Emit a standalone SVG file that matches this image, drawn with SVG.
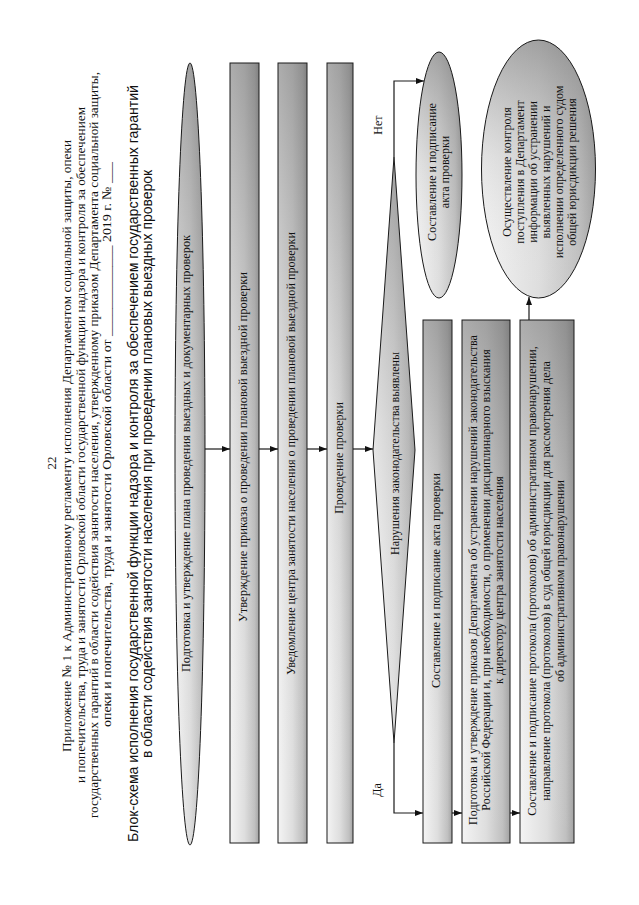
<svg xmlns="http://www.w3.org/2000/svg" width="639" height="905" viewBox="0 0 639 905">
<defs>
<linearGradient id="gh" x1="0" y1="0" x2="1" y2="0">
<stop offset="0" stop-color="#f4f4f4"/>
<stop offset="0.5" stop-color="#dedede"/>
<stop offset="0.85" stop-color="#c0c0c0"/>
<stop offset="1" stop-color="#a2a2a2"/>
</linearGradient>
<linearGradient id="gv" x1="0" y1="0" x2="0" y2="1">
<stop offset="0" stop-color="#555555" stop-opacity="0.45"/>
<stop offset="0.45" stop-color="#777777" stop-opacity="0.14"/>
<stop offset="1" stop-color="#ffffff" stop-opacity="0"/>
</linearGradient>
<marker id="ah" markerUnits="userSpaceOnUse" markerWidth="8" markerHeight="6" refX="8" refY="3" orient="auto">
<path d="M0,0 L8,3 L0,6 z" fill="#111"/>
</marker>
</defs>
<style>
.hd{font-family:"Liberation Serif","Times New Roman",serif;font-size:13px;fill:#111;text-anchor:middle}
.tt{font-family:"Liberation Sans",Arial,sans-serif;font-size:14px;fill:#111;text-anchor:middle}
.bx{font-family:"Liberation Serif","Times New Roman",serif;font-size:12px;fill:#111;text-anchor:middle}
.sh{fill:url(#gh)}
.ov{fill:url(#gv);stroke:#1a1a1a;stroke-width:1}
.cn{fill:none;stroke:#1a1a1a;stroke-width:1.2;marker-end:url(#ah)}
.lb{font-family:"Liberation Serif","Times New Roman",serif;font-size:12px;fill:#111;text-anchor:middle}
</style>
<rect width="639" height="905" fill="#ffffff"/>
<g id="header">
<text class="hd" transform="translate(56,463) rotate(-90)">22</text>
<text class="hd" transform="translate(71,446) rotate(-90)" textLength="612" lengthAdjust="spacingAndGlyphs">Приложение № 1 к Административному регламенту исполнения Департаментом социальной защиты, опеки</text>
<text class="hd" transform="translate(85,445) rotate(-90)" textLength="676" lengthAdjust="spacingAndGlyphs">и попечительства, труда и занятости Орловской области государственной функции надзора и контроля за обеспечением</text>
<text class="hd" transform="translate(98,445) rotate(-90)" textLength="746" lengthAdjust="spacingAndGlyphs">государственных гарантий в области содействия занятости населения, утвержденному приказом Департамента социальной защиты,</text>
<text class="hd" transform="translate(111,444.5) rotate(-90)" textLength="565" lengthAdjust="spacingAndGlyphs">опеки и попечительства, труда и занятости Орловской области от _____________ 2019 г. № ___</text>
<text class="tt" transform="translate(138,463.5) rotate(-90)" textLength="757" lengthAdjust="spacingAndGlyphs">Блок-схема исполнения государственной функции надзора и контроля за обеспечением государственных гарантий</text>
<text class="tt" transform="translate(152,464) rotate(-90)" textLength="588" lengthAdjust="spacingAndGlyphs">в области содействия занятости населения при проведении плановых выездных проверок</text>
</g>
<g id="n1">
<ellipse class="sh" cx="190" cy="454" rx="15" ry="391"/>
<ellipse class="ov" cx="190" cy="454" rx="15" ry="391"/>
<text class="bx" transform="translate(190,453.5) rotate(-90)" textLength="437" lengthAdjust="spacingAndGlyphs">Подготовка и утверждение плана проведения выездных и документарных проверок</text>
</g>
<g id="n2">
<rect class="sh" x="230" y="63" width="29" height="780"/>
<rect class="ov" x="230" y="63" width="29" height="780"/>
<text class="bx" transform="translate(247,447) rotate(-90)" textLength="350" lengthAdjust="spacingAndGlyphs">Утверждение приказа о проведении плановой выездной проверки</text>
</g>
<g id="n3">
<rect class="sh" x="278" y="63" width="29" height="780"/>
<rect class="ov" x="278" y="63" width="29" height="780"/>
<text class="bx" transform="translate(295,453.5) rotate(-90)" textLength="443" lengthAdjust="spacingAndGlyphs">Уведомление центра занятости населения о проведении плановой выездной проверки</text>
</g>
<g id="n4">
<rect class="sh" x="327" y="63" width="26" height="780"/>
<rect class="ov" x="327" y="63" width="26" height="780"/>
<text class="bx" transform="translate(343,458) rotate(-90)">Проведение проверки</text>
</g>
<g id="n5">
<polygon class="sh" points="394,157 415,450 394,743 373,450"/>
<polygon class="ov" points="394,157 415,450 394,743 373,450"/>
<text class="bx" transform="translate(399,453.5) rotate(-90)" textLength="203" lengthAdjust="spacingAndGlyphs">Нарушения законодательства выявлены</text>
</g>
<g id="n6">
<ellipse class="sh" cx="439" cy="175" rx="23" ry="123"/>
<ellipse class="ov" cx="439" cy="175" rx="23" ry="123"/>
<text class="bx" transform="translate(436,172) rotate(-90)">Составление и подписание</text>
<text class="bx" transform="translate(449,172) rotate(-90)">акта проверки</text>
</g>
<g id="n7">
<rect class="sh" x="423" y="320" width="29" height="523"/>
<rect class="ov" x="423" y="320" width="29" height="523"/>
<text class="bx" transform="translate(440,580.5) rotate(-90)" textLength="215" lengthAdjust="spacingAndGlyphs">Составление и подписание акта проверки</text>
</g>
<g id="n8">
<rect class="sh" x="462" y="320" width="48" height="523"/>
<rect class="ov" x="462" y="320" width="48" height="523"/>
<text class="bx" transform="translate(477,580) rotate(-90)">Подготовка и утверждение приказов Департамента об устранении нарушений законодательства</text>
<text class="bx" transform="translate(490,580) rotate(-90)">Российской Федерации и, при необходимости, о применении дисциплинарного взыскания</text>
<text class="bx" transform="translate(503,580) rotate(-90)">к директору центра занятости населения</text>
</g>
<g id="n9">
<rect class="sh" x="520" y="320" width="54" height="523"/>
<rect class="ov" x="520" y="320" width="54" height="523"/>
<text class="bx" transform="translate(536,581) rotate(-90)">Составление и подписание протокола (протоколов) об административном правонарушении,</text>
<text class="bx" transform="translate(550,581) rotate(-90)">направление протокола (протоколов) в суд общей юрисдикции для рассмотрения дела</text>
<text class="bx" transform="translate(564,581) rotate(-90)">об административном правонарушении</text>
</g>
<g id="n10">
<ellipse class="sh" cx="538.5" cy="169" rx="57" ry="129"/>
<ellipse class="ov" cx="538.5" cy="169" rx="57" ry="129"/>
<text class="bx" transform="translate(511,172) rotate(-90)">Осуществление контроля</text>
<text class="bx" transform="translate(524,172) rotate(-90)">поступления в Департамент</text>
<text class="bx" transform="translate(537,172) rotate(-90)">информации об устранении</text>
<text class="bx" transform="translate(550,172) rotate(-90)">выявленных нарушений и</text>
<text class="bx" transform="translate(563,172) rotate(-90)">исполнении определенного судом</text>
<text class="bx" transform="translate(576,172) rotate(-90)">общей юрисдикции решения</text>
</g>
<g id="connectors">
<path class="cn" d="M205,449 H230"/>
<path class="cn" d="M259,449 H278"/>
<path class="cn" d="M307,449 H327"/>
<path class="cn" d="M353,449 H373"/>
<path class="cn" d="M394,157 V81 H424"/>
<path class="cn" d="M394,743 V813 H423"/>
<path class="cn" d="M452,813 H462"/>
<path class="cn" d="M510,813 H520"/>
<path class="cn" d="M529,320 V297"/>
<text class="lb" transform="translate(382,125) rotate(-90)">Нет</text>
<text class="lb" transform="translate(381,790) rotate(-90)">Да</text>
</g>
</svg>
